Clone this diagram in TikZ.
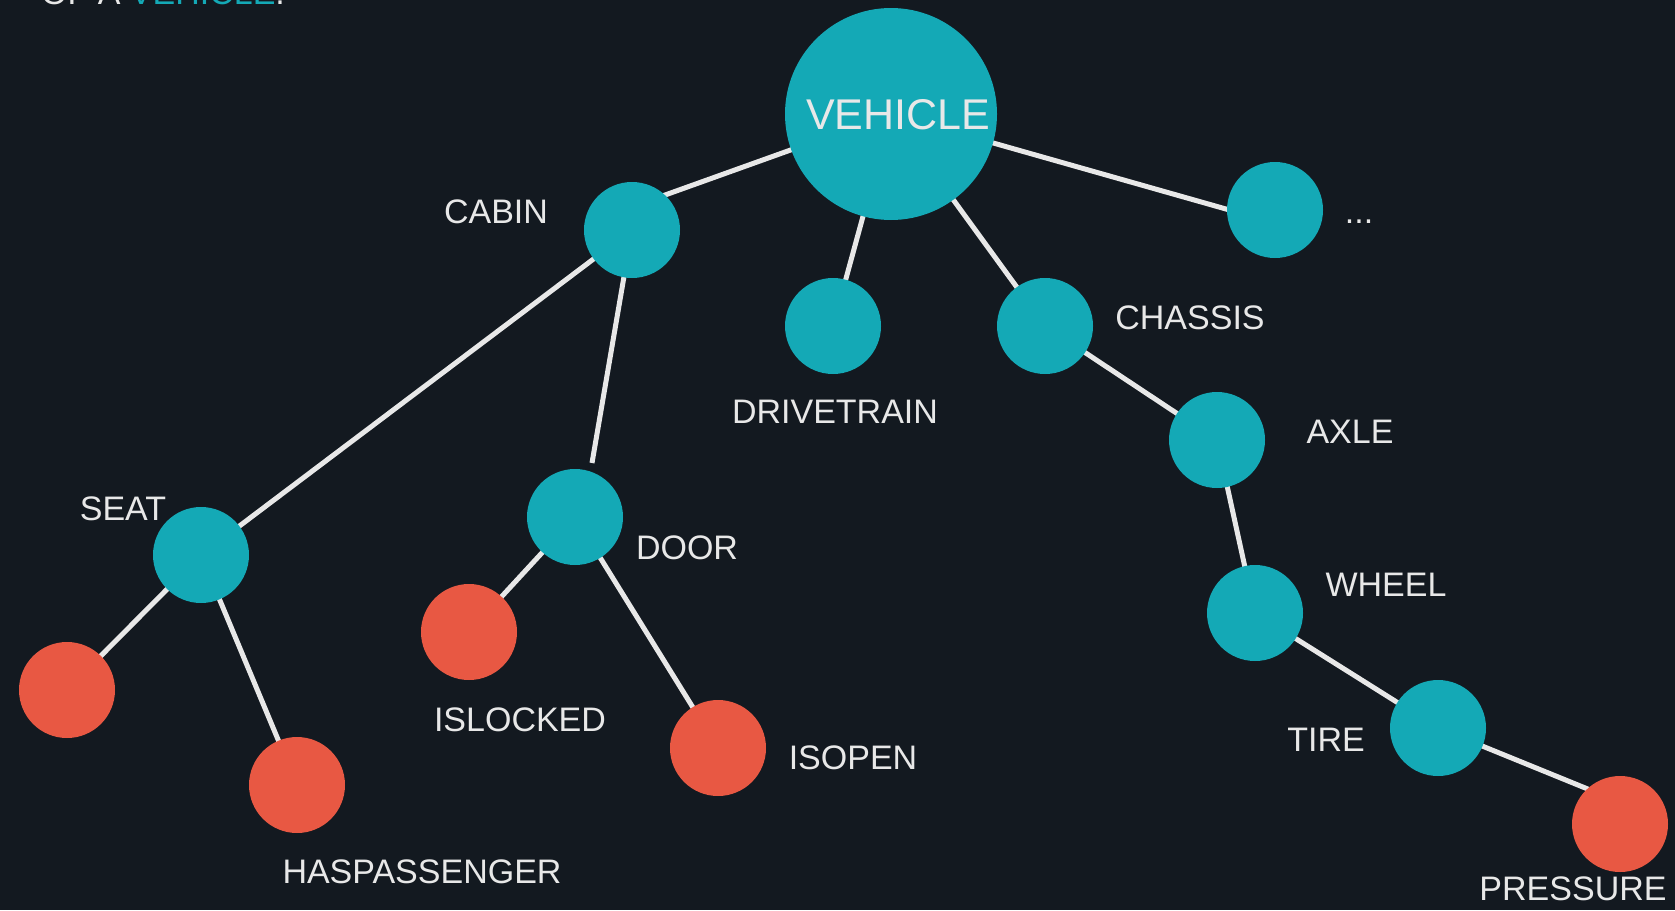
\documentclass[tikz,border=0pt]{standalone}
\usepackage{fontspec}
\setmainfont{Liberation Sans}
\definecolor{bgc}{HTML}{131920}
\definecolor{teal}{HTML}{14A9B6}
\definecolor{redc}{HTML}{E85843}
\definecolor{txt}{HTML}{E8E8E8}
\tikzset{
  bnode/.style={circle, fill=teal, draw=none, inner sep=0pt, minimum size=96pt},
  rnode/.style={circle, fill=redc, draw=none, inner sep=0pt, minimum size=96pt},
  lbl/.style={anchor=base, inner sep=0pt, text=txt, font=\fontsize{34}{40}\selectfont},
  edge/.style={draw=txt, line width=5pt}
}
\begin{document}
\begin{tikzpicture}[x=1pt, y=-1pt]
\useasboundingbox (0,0) rectangle (1675,910);
\clip (0,0) rectangle (1675,910);
\fill[bgc] (0,0) rectangle (1675,910);

\node[anchor=base west, inner sep=0pt, text=txt, font=\fontsize{34}{40}\selectfont] (title) at (41,5) {OF A \textcolor{teal}{VEHICLE}.};

% centres
\coordinate (pveh) at (891,114);
\coordinate (pcab) at (632,230);
\coordinate (pdrv) at (833,326);
\coordinate (pcha) at (1045,326);
\coordinate (pdot) at (1275,210);
\coordinate (paxl) at (1217,440);
\coordinate (pwhe) at (1255,613);
\coordinate (ptir) at (1438,728);
\coordinate (ppre) at (1620,824);
\coordinate (psea) at (201,555);
\coordinate (psr1) at (67,690);
\coordinate (phas) at (297,785);
\coordinate (pdoo) at (575,517);
\coordinate (pisl) at (469,632);
\coordinate (piso) at (718,748);
% line ends that are not the centres
\coordinate (ecab) at (640,204);
\coordinate (edot) at (1240,213);
\coordinate (edoo) at (592,463);
\coordinate (epre) at (1600,794);

% edges
\draw[edge] (pveh) -- (ecab);
\draw[edge] (pveh) -- (pdrv);
\draw[edge] (pveh) -- (pcha);
\draw[edge] (pveh) -- (edot);
\draw[edge] (pcab) -- (psea);
\draw[edge] (pcab) -- (edoo);
\draw[edge] (psea) -- (psr1);
\draw[edge] (psea) -- (phas);
\draw[edge] (pdoo) -- (pisl);
\draw[edge] (pdoo) -- (piso);
\draw[edge] (pcha) -- (paxl);
\draw[edge] (paxl) -- (pwhe);
\draw[edge] (pwhe) -- (ptir);
\draw[edge] (ptir) -- (epre);

% nodes
\node[bnode, minimum size=212pt] (veh) at (pveh) {};
\node[anchor=base, inner sep=0pt, text=txt, font=\fontsize{43}{50}\selectfont] (vehl) at (898,129) {VEHICLE};
\node[bnode] (cab) at (pcab) {};
\node[bnode] (drv) at (pdrv) {};
\node[bnode] (cha) at (pcha) {};
\node[bnode] (dot) at (pdot) {};
\node[bnode] (axl) at (paxl) {};
\node[bnode] (whe) at (pwhe) {};
\node[bnode] (tir) at (ptir) {};
\node[rnode] (pre) at (ppre) {};
\node[bnode] (sea) at (psea) {};
\node[rnode] (sr1) at (psr1) {};
\node[rnode] (has) at (phas) {};
\node[bnode] (doo) at (pdoo) {};
\node[rnode] (isl) at (pisl) {};
\node[rnode] (iso) at (piso) {};

% labels
\node[lbl] (lcab) at (496,223) {CABIN};
\node[lbl] (ldrv) at (835,423) {DRIVETRAIN};
\node[lbl] (lcha) at (1190,329) {CHASSIS};
\node[lbl] (ldot) at (1359,223) {...};
\node[lbl] (laxl) at (1350,443) {AXLE};
\node[lbl] (lwhe) at (1386,596) {WHEEL};
\node[lbl] (ltir) at (1326,751) {TIRE};
\node[lbl] (lpre) at (1573,900) {PRESSURE};
\node[lbl] (lsea) at (123,520) {SEAT};
\node[lbl] (lhas) at (422,883) {HASPASSENGER};
\node[lbl] (ldoo) at (687,559) {DOOR};
\node[lbl] (lisl) at (520,731) {ISLOCKED};
\node[lbl] (liso) at (853,769) {ISOPEN};
\end{tikzpicture}
\end{document}
